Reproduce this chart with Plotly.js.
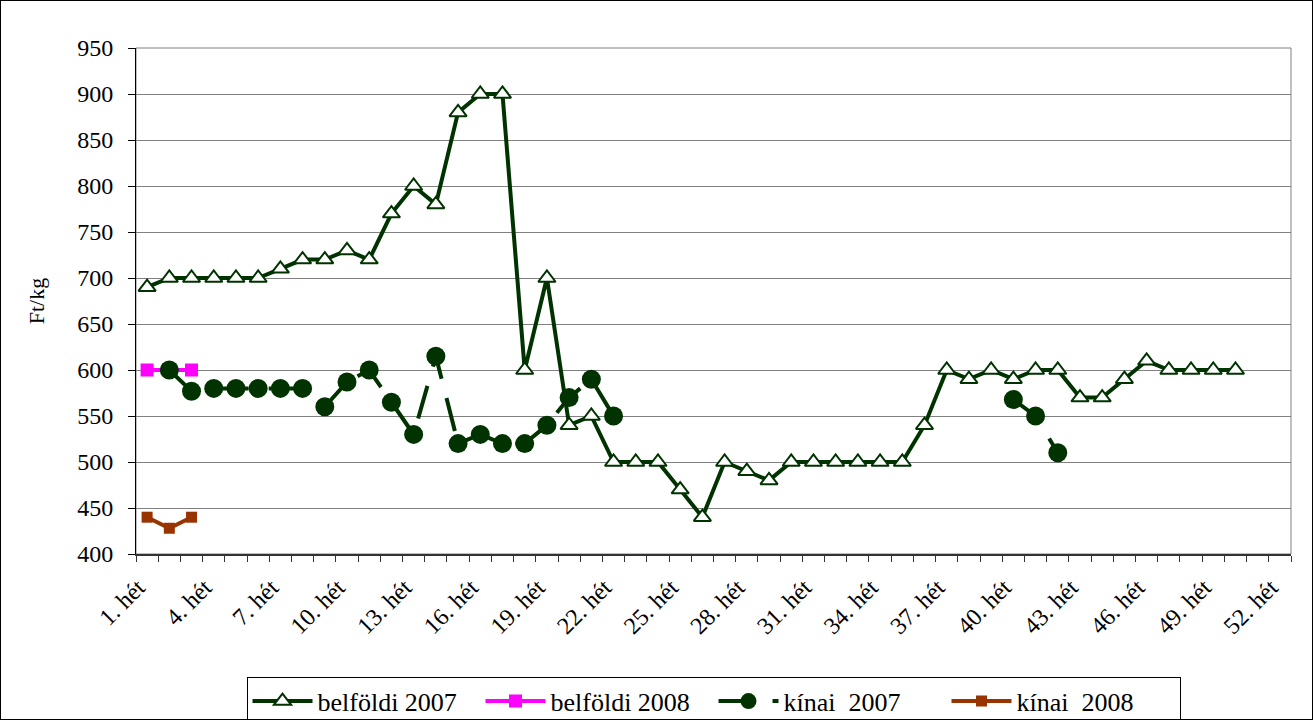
<!DOCTYPE html>
<html>
<head>
<meta charset="utf-8">
<script src="https://cdn.plot.ly/plotly-3.0.1.min.js"></script>
<style>
  html, body { margin: 0; padding: 0; background: #fff; }
  #chart { width: 1311px; height: 718px; border: 1px solid #000; }
</style>
</head>
<body>
<div id="chart"></div>
<script>
// Week categories (x axis)
const weeks = [];
for (let i = 1; i <= 52; i++) weeks.push(i + '. hét');

// Series values (Ft/kg)
const belfoldi2007 = [690,700,700,700,700,700,710,720,720,730,720,770,800,780,880,900,900,600,700,540,
                      550,500,500,500,470,440,500,490,480,500,500,500,500,500,500,540,600,590,600,590,
                      600,600,570,570,590,610,600,600,600,600];
const belfoldi2008 = [600,600,600];
const kinai2007 = [null,600,577,580,580,580,580,580,560,587,600,565,530,615,520,530,520,520,540,570,
                   590,550,null,null,null,null,null,null,null,null,null,null,null,null,null,null,null,null,null,
                   568,550,510];
const kinai2008 = [440,428,440];

const seriesNames = ['belföldi 2007', 'belföldi 2008', 'kínai  2007', 'kínai  2008'];

const xIdx = arr => arr.map((_, i) => i + 1);
const labelEvery = 3;
const tickvals = [], ticktext = [];
weeks.forEach((w, i) => { if (i % labelEvery === 0) { tickvals.push(i + 1); ticktext.push(w); } });
const boundaries = [];
for (let i = 0; i <= weeks.length; i++) boundaries.push(i + 0.5);

const FONT = "'Liberation Serif', 'Times New Roman', Times, serif";

const traces = [
  {
    x: xIdx(belfoldi2007), y: belfoldi2007, name: seriesNames[0], type: 'scatter', mode: 'lines+markers',
    line: { color: '#003300', width: 4 },
    marker: { symbol: 'triangle-up', size: 15, color: '#ffffff', line: { color: '#003300', width: 2 } }
  },
  {
    x: xIdx(belfoldi2008), y: belfoldi2008, name: seriesNames[1], type: 'scatter', mode: 'lines+markers',
    line: { color: '#ff00ff', width: 4 },
    marker: { symbol: 'square', size: 13, color: '#ff00ff' }
  },
  {
    x: xIdx(kinai2007), y: kinai2007, name: seriesNames[2], type: 'scatter', mode: 'lines+markers',
    connectgaps: false,
    line: { color: '#003300', width: 4, dash: '34px,20px' },
    marker: { symbol: 'circle', size: 19, color: '#003300' }
  },
  {
    x: xIdx(kinai2008), y: kinai2008, name: seriesNames[3], type: 'scatter', mode: 'lines+markers',
    line: { color: '#993300', width: 4 },
    marker: { symbol: 'square', size: 11, color: '#993300' }
  }
];

const layout = {
  width: 1311, height: 718,
  margin: { l: 135, r: 21, t: 47, b: 165 },
  paper_bgcolor: '#ffffff', plot_bgcolor: '#ffffff',
  font: { family: FONT, size: 24, color: '#000' },
  showlegend: true,
  legend: {
    orientation: 'h', x: 0.5, xanchor: 'center', yref: 'container', y: 0.059, yanchor: 'top',
    bordercolor: '#000', borderwidth: 1, font: { family: FONT, size: 26, color: '#000' },
    itemwidth: 60, entrywidth: 158, tracegroupgap: 0
  },
  xaxis: {
    range: [0.5, 52.5], tickmode: 'array', tickvals: tickvals, ticktext: ticktext,
    tickangle: -45, ticks: '', showgrid: false, zeroline: false, automargin: false,
    ticklabelshift: -9, ticklabelstandoff: 8,
    showline: true, linecolor: '#333', linewidth: 2,
    tickfont: { family: FONT, size: 24, color: '#000' },
    minor: { tickmode: 'array', tickvals: boundaries, ticks: 'outside', ticklen: 6, tickcolor: '#333', tickwidth: 1, showgrid: false }
  },
  yaxis: {
    range: [400, 950], dtick: 50, tick0: 400, ticks: 'outside', ticklen: 7, tickcolor: '#000',
    ticklabelstandoff: 10, automargin: false,
    showline: true, linecolor: '#000', linewidth: 1,
    showgrid: true, gridcolor: '#808080', gridwidth: 1, zeroline: false,
    tickfont: { family: FONT, size: 24, color: '#000' },
    title: { text: 'Ft/kg', font: { family: FONT, size: 22, color: '#000' }, standoff: 26 }
  },
  shapes: [
    { type: 'rect', xref: 'paper', yref: 'paper', x0: 0, x1: 1, y0: 0, y1: 1,
      line: { color: '#808080', width: 1 }, layer: 'below' }
  ]
};

Plotly.newPlot('chart', traces, layout, { displayModeBar: false, staticPlot: true });
</script>
</body>
</html>
